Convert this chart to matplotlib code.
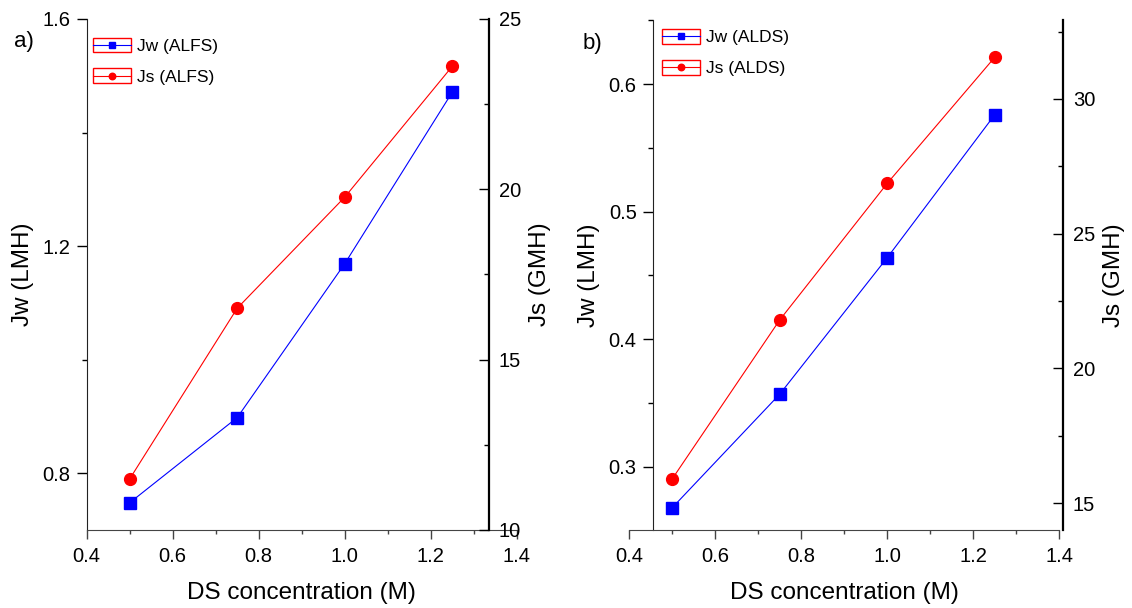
"""Water and reverse solute flux versus draw-solution concentration, ALFS and ALDS modes."""
import matplotlib
matplotlib.use("Agg")
import matplotlib.pyplot as plt
from matplotlib.legend_handler import HandlerLine2D
from matplotlib.patches import Rectangle
from matplotlib.ticker import MultipleLocator

plt.rcParams["font.family"] = ["Liberation Sans", "DejaVu Sans"]

# ---------- data ----------
ds_conc = [0.5, 0.75, 1.0, 1.25]          # M

jw_alfs = [0.748, 0.898, 1.169, 1.471]    # LMH
js_alfs = [11.50, 16.51, 19.77, 23.61]    # GMH

jw_alds = [0.268, 0.357, 0.464, 0.576]    # LMH
js_alds = [15.9, 21.8, 26.87, 31.55]      # GMH

BLUE = "#0000ff"
RED = "#ff0000"
TICK_FS = 14.5
LABEL_FS = 17.5
LEGEND_FS = 12.5


class BoxedLineHandler(HandlerLine2D):
    """Line + marker legend handle with a red outline box around it."""

    def create_artists(self, legend, orig_handle, xdescent, ydescent,
                       width, height, fontsize, trans):
        artists = super().create_artists(legend, orig_handle, xdescent, ydescent,
                                         width, height, fontsize, trans)
        box = Rectangle((-xdescent, -ydescent - 1), width, height + 2,
                        transform=trans, fill=False, edgecolor=RED, lw=1.0)
        return [box] + artists


def style_axis(ax, direction, major, minor):
    ax.tick_params(axis="y", which="major", direction=direction, length=7,
                   width=1.0, labelsize=TICK_FS, pad=5)
    ax.tick_params(axis="y", which="minor", direction=direction, length=3.5, width=1.0)
    ax.yaxis.set_major_locator(MultipleLocator(major))
    ax.yaxis.set_minor_locator(MultipleLocator(minor))


def draw_panel(ax, jw, js, tag, jw_lim, jw_ticks, js_lim, js_ticks,
               left_at, right_at, legend_anchor):
    ax.set_xlim(0.4, 1.4)
    ax.set_ylim(*jw_lim)
    ax2 = ax.twinx()
    ax2.set_ylim(*js_lim)

    lw, = ax.plot(ds_conc, jw, color=BLUE, lw=0.8, marker="s", ms=8,
                  label=f"Jw ({tag})")
    ls, = ax2.plot(ds_conc, js, color=RED, lw=0.8, marker="o", ms=8.5,
                   label=f"Js ({tag})")

    # spines: left/bottom thin, right on the twin, no top
    for sp in ("top", "right"):
        ax.spines[sp].set_visible(False)
    for sp in ("top", "left", "bottom"):
        ax2.spines[sp].set_visible(False)
    ax.spines["left"].set_position(("data", left_at))
    ax2.spines["right"].set_position(("data", right_at))
    ax.spines["left"].set_color("#222222")
    ax.spines["bottom"].set_color("#444444")
    ax2.spines["right"].set_linewidth(1.6)

    ax.xaxis.set_major_locator(MultipleLocator(0.2))
    ax.xaxis.set_minor_locator(MultipleLocator(0.1))
    ax.tick_params(axis="x", which="major", direction="out", length=6.5,
                   width=1.0, labelsize=TICK_FS, pad=6, color="#444444")
    ax.tick_params(axis="x", which="minor", direction="out", length=3,
                   width=1.0, color="#444444")
    style_axis(ax, "out", *jw_ticks)
    style_axis(ax2, "in", *js_ticks)
    ax2.tick_params(axis="y", which="major", pad=7)

    ax.set_xlabel("DS concentration (M)", fontsize=LABEL_FS, labelpad=11)
    ax.set_ylabel("Jw (LMH)", fontsize=LABEL_FS, labelpad=6)
    ax2.set_ylabel("Js (GMH)", fontsize=LABEL_FS, labelpad=6)

    ax2.legend(handles=[lw, ls], loc="upper left", bbox_to_anchor=legend_anchor,
               frameon=False, fontsize=LEGEND_FS, handlelength=2.2,
               handleheight=0.7, handletextpad=0.35, labelspacing=0.9,
               borderpad=0, borderaxespad=0, markerscale=0.55,
               handler_map={lw: BoxedLineHandler(), ls: BoxedLineHandler()})
    return ax2


fig = plt.figure(figsize=(11.32, 6.08), dpi=100)
ax_a = fig.add_axes([0.0766, 0.1283, 0.3799, 0.8405])
ax_b = fig.add_axes([0.5559, 0.1283, 0.3799, 0.8388])

draw_panel(ax_a, jw_alfs, js_alfs, "ALFS", (0.70, 1.60), (0.4, 0.2),
           (10, 25), (5, 2.5), left_at=0.4, right_at=1.3356,
           legend_anchor=(0.014, 0.961))
draw_panel(ax_b, jw_alds, js_alds, "ALDS", (0.2505, 0.6502), (0.1, 0.05),
           (14.0, 32.93), (5, 2.5), left_at=0.456, right_at=1.4086,
           legend_anchor=(0.0753, 0.98))

fig.text(0.012, 1 - 42 / 608, "a)", fontsize=16, va="center")
fig.text(0.515, 1 - 43 / 608, "b)", fontsize=16, va="center")

fig.savefig("out.png", dpi=100)
